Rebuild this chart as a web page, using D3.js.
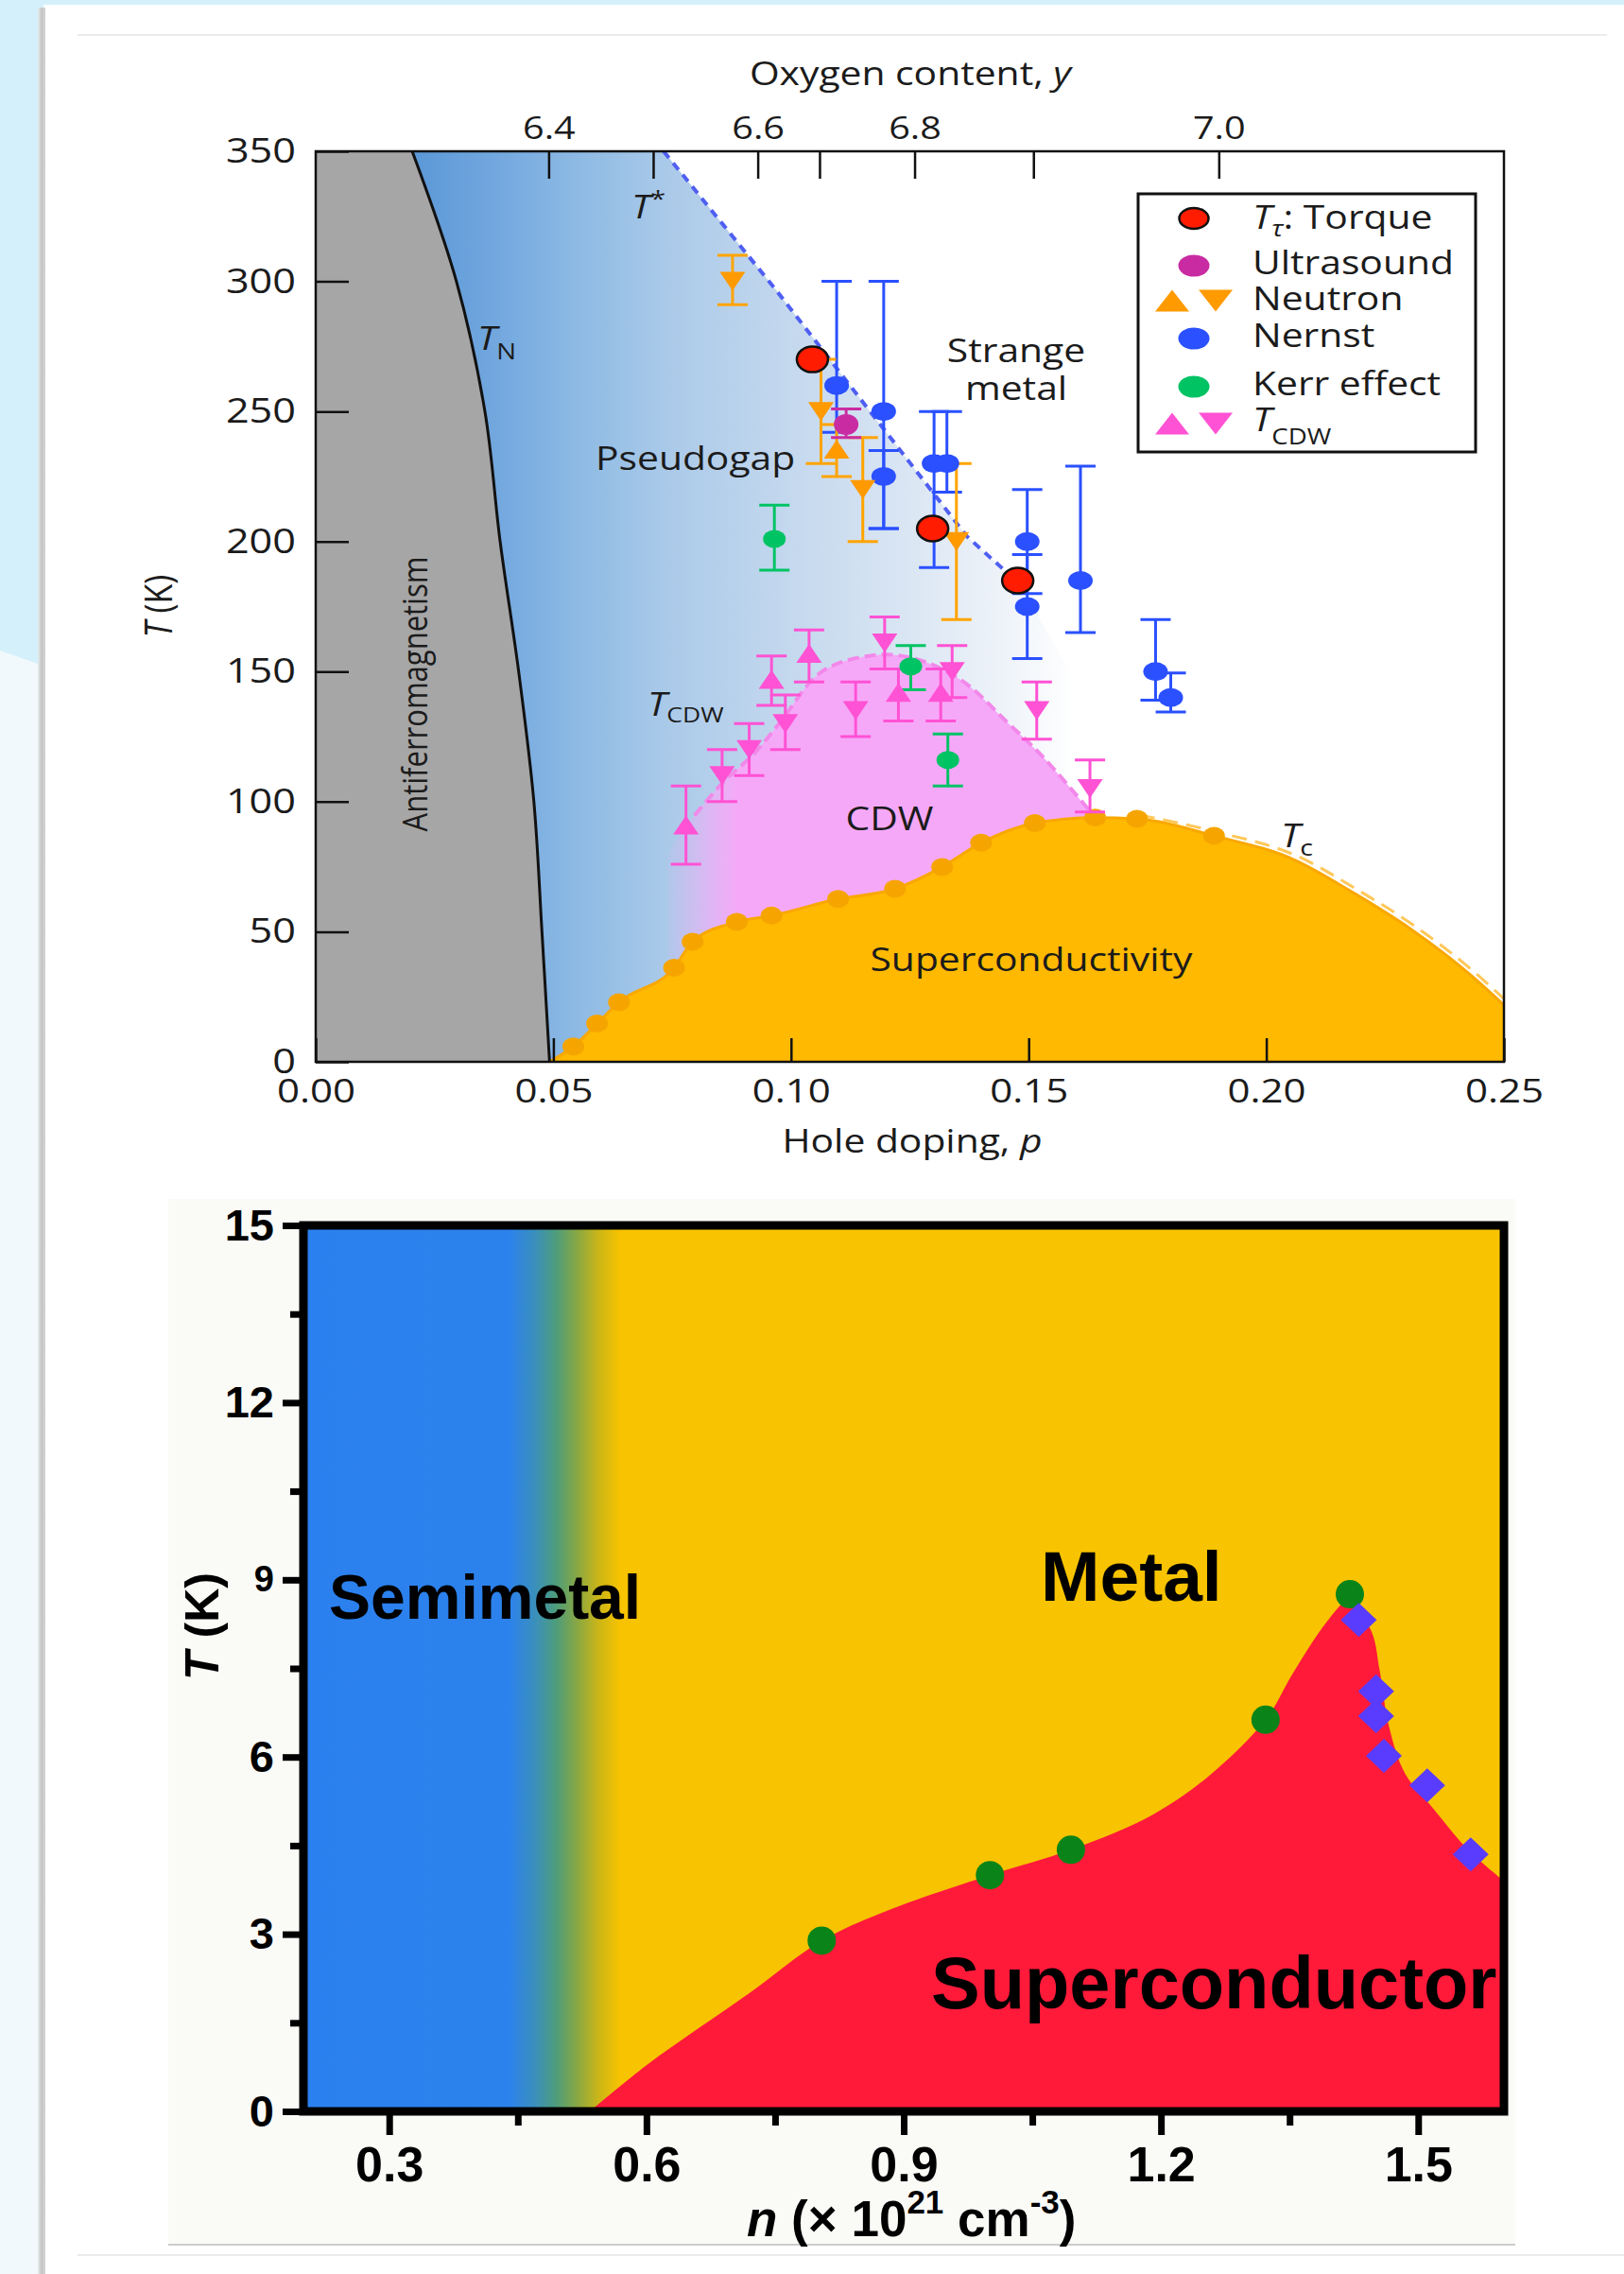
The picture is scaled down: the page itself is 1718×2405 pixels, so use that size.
<!DOCTYPE html>
<html>
<head>
<meta charset="utf-8">
<title>Phase diagrams</title>
<script src="https://cdn.jsdelivr.net/npm/d3@7/dist/d3.min.js"></script>
<style>
  html, body { margin: 0; padding: 0; background: #ffffff; }
  svg { display: block; }
</style>
</head>
<body>
<svg id="fig" width="1718" height="2405"></svg>
<script>
// ================= Upper panel: cuprate phase diagram =================
const pTicks = [0, 0.05, 0.10, 0.15, 0.20, 0.25];
const tTicks = [0, 50, 100, 150, 200, 250, 300, 350];
const oxyTickP = [0.049, 0.071, 0.093, 0.106, 0.126, 0.151, 0.190];
const oxyTickLabels = ["6.4", "", "6.6", "", "6.8", "", "7.0"];

// Néel line T_N
const tnP = [0.0203, 0.0296, 0.0356, 0.0388, 0.0427, 0.0459, 0.0476, 0.0492];
const tnT = [350, 300, 250, 200, 150, 100, 50, 0];
// pseudogap crossover T*
const tStarP = [0.0732, 0.0967, 0.137, 0.1485];
const tStarT = [350, 297, 202, 183];
// superconducting Tc points and the dashed continuation
const tcP = [0.0542, 0.0592, 0.0638, 0.0754, 0.0793, 0.0886, 0.0959, 0.1099, 0.1219, 0.1318, 0.1400, 0.1513, 0.1640, 0.1728, 0.1890];
const tcT = [5.9, 14.7, 22.9, 36.2, 46.2, 53.8, 56.2, 62.6, 66.5, 74.9, 84.2, 91.8, 93.9, 93.4, 86.9];
const tcTailP = [0.2061, 0.2183, 0.2305, 0.2427, 0.25];
const tcTailT = [77.5, 65, 50.9, 33.8, 21.8];
// charge-density-wave dome edge
const cdwP = [0.074, 0.0797, 0.086, 0.092, 0.0975, 0.1065, 0.1175, 0.126, 0.1359, 0.1455, 0.1529, 0.1626];
const cdwT = [80, 94.7, 108, 118, 130, 150, 156.3, 155, 146.6, 130.5, 117.4, 97];

// measurements: [p, T] or [p, T, lower, upper]
const torque = [[0.1045, 270], [0.1298, 205], [0.1477, 185]];
const ultrasound = [[0.1116, 245, 240, 251]];
const neutronUp = [[0.1096, 235.5, 225, 245]];
const neutronDown = [[0.0877, 300, 291, 310], [0.1063, 250, 230, 270], [0.1151, 220, 200, 240], [0.1348, 200, 170, 230]];
const nernst = [[0.1096, 260, 242, 300], [0.1195, 250, 205, 300], [0.1195, 225, 205, 235], [0.1301, 230, 190, 250],
                [0.1328, 230, 219, 250], [0.1497, 200, 180, 220], [0.1497, 175, 155, 195], [0.1609, 185, 165, 229],
                [0.1767, 150, 139, 170], [0.1799, 140, 134.5, 149.5]];
const kerr = [[0.0965, 201, 189, 214], [0.1252, 152, 143, 160], [0.1330, 116, 106, 126]];
const cdwUp = [[0.0779, 91, 76, 106], [0.0959, 147, 137, 156], [0.1038, 157, 146, 166], [0.1226, 142, 131, 151], [0.1315, 142, 131, 151]];
const cdwDown = [[0.0855, 110, 100, 120], [0.0912, 120, 110, 130], [0.0988, 130, 120, 141], [0.1136, 135, 125, 146],
                 [0.1197, 161, 151, 171], [0.1339, 150, 140, 160], [0.1517, 135, 124, 146], [0.1629, 105, 96, 116]];

// ================= Lower panel: carrier density phase diagram =================
const nTicks = [0.3, 0.6, 0.9, 1.2, 1.5];
const nMinorTicks = [0.45, 0.75, 1.05, 1.35];
const tBotTicks = [0, 3, 6, 9, 12, 15];
const tBotMinorTicks = [1.5, 4.5, 7.5, 10.5, 13.5];
// colour ramp across the semimetal / metal crossover
const phaseStopN = [0.2, 0.44, 0.47, 0.495, 0.52, 0.545, 0.57, 1.6];
const phaseStopColor = ["#2b80ef", "#2c82ec", "#3a8fbc", "#4e9d7a", "#8ba842", "#cdb616", "#f8c300", "#f8c300"];
// superconducting region edge: rising branch and falling branch
const scLeftN = [0.534, 0.60, 0.66, 0.72, 0.8044, 0.885, 1.0006, 1.095, 1.19, 1.256, 1.322, 1.352, 1.382, 1.405, 1.42];
const scLeftT = [0, 0.78, 1.4, 2.0, 2.89, 3.42, 4.0, 4.43, 5.02, 5.68, 6.63, 7.37, 8.06, 8.5, 8.72];
const scRightN = [1.42, 1.446, 1.455, 1.466, 1.485, 1.518, 1.558, 1.6];
const scRightT = [8.72, 8.11, 7.47, 6.51, 5.71, 5.12, 4.43, 3.9];
const greenN = [0.8044, 1.0006, 1.095, 1.322, 1.4203];
const greenT = [2.89, 4.0, 4.43, 6.63, 8.755];
const diamondN = [1.4307, 1.4509, 1.4509, 1.460, 1.5105, 1.5612];
const diamondT = [8.32, 7.11, 6.69, 6.02, 5.52, 4.35];

// ---------------------------------------------------------------
const svg = d3.select("#fig");
const defs = svg.append("defs");
const FONT_T = "'Open Sans', 'DejaVu Sans', sans-serif";
const FONT_B = "'Liberation Sans', Arial, sans-serif";
const SX = 1.2;          // horizontal widening of the upper panel lettering
const INK = "#1b1b1b";

// text helper: parts = [{t, italic, size, dy}]
function label(parent, x, y, parts, o) {
  let tr = `translate(${x},${y}) scale(${o.sx || 1},1)`;
  if (o.rotate) tr += ` rotate(${o.rotate})`;
  const t = parent.append("text")
    .attr("transform", tr)
    .attr("font-family", o.family)
    .attr("font-size", o.size)
    .attr("font-weight", o.weight || "normal")
    .attr("text-anchor", o.anchor || "start")
    .attr("fill", o.fill || INK);
  if (o.baseline) t.attr("dominant-baseline", o.baseline);
  parts.forEach(p => {
    const s = t.append("tspan").text(p.t);
    if (p.italic) s.attr("font-style", "italic");
    if (p.size) s.attr("font-size", p.size);
    if (p.dy) s.attr("dy", p.dy);
  });
  return t;
}

// ---------------- page backdrop ----------------
svg.append("rect").attr("width", 1718).attr("height", 2405).attr("fill", "#ffffff");
svg.append("rect").attr("x", 0).attr("y", 0).attr("width", 44).attr("height", 2405).attr("fill", "#f1f9fc");
svg.append("path").attr("d", "M0,0H1718V5H46V704L0,688Z").attr("fill", "#d4f0fb");
const sh = defs.append("linearGradient").attr("id", "cardShadow");
sh.append("stop").attr("offset", 0).attr("stop-color", "#e6eef0");
sh.append("stop").attr("offset", 0.5).attr("stop-color", "#c4c4c4");
sh.append("stop").attr("offset", 1).attr("stop-color", "#d6d6d6");
svg.append("rect").attr("x", 40).attr("y", 8).attr("width", 8).attr("height", 2397).attr("fill", "url(#cardShadow)");
svg.append("line").attr("x1", 82).attr("x2", 1700).attr("y1", 37).attr("y2", 37).attr("stroke", "#e6e6e6").attr("stroke-width", 1.5);
svg.append("rect").attr("x", 178).attr("y", 1268).attr("width", 1425).attr("height", 1106).attr("fill", "#fafaf7");
svg.append("line").attr("x1", 178).attr("x2", 1603).attr("y1", 2374).attr("y2", 2374).attr("stroke", "#bdbdbd").attr("stroke-width", 1.5);
svg.append("line").attr("x1", 82).attr("x2", 1718).attr("y1", 2385).attr("y2", 2385).attr("stroke", "#e4e4e4").attr("stroke-width", 1.5);

// ================= upper panel =================
const xT = d3.scaleLinear().domain([0, 0.25]).range([334, 1591]);
const yT = d3.scaleLinear().domain([0, 350]).range([1123, 160]);
const g1 = svg.append("g");

defs.append("clipPath").attr("id", "clipTop").append("rect")
  .attr("x", xT(0)).attr("y", yT(350)).attr("width", xT(0.25) - xT(0)).attr("height", yT(0) - yT(350));
const plot1 = g1.append("g").attr("clip-path", "url(#clipTop)");

const smooth = d3.line().curve(d3.curveCatmullRom.alpha(0.5));
const tnPts = tnP.map((p, i) => [xT(p), yT(tnT[i])]);
const tStarPts = tStarP.map((p, i) => [xT(p), yT(tStarT[i])]);

// antiferromagnetic region
plot1.append("path")
  .attr("d", `M${xT(0)},${yT(350)}` + smooth(tnPts).replace(/^M/, "L") + `L${xT(0)},${yT(0)}Z`)
  .attr("fill", "#a6a6a6");

// pseudogap shading
const pg = defs.append("linearGradient").attr("id", "pgGrad").attr("gradientUnits", "userSpaceOnUse")
  .attr("x1", xT(0.02)).attr("x2", xT(0.16)).attr("y1", 0).attr("y2", 0);
[[0, "#5a97d7"], [0.14, "#75a9df"], [0.25, "#8dbae4"], [0.39, "#abcae9"], [0.57, "#c4d8ee"],
 [0.74, "#d9e5f3"], [0.89, "#eef3f9"], [1, "#ffffff"]]
  .forEach(s => pg.append("stop").attr("offset", s[0]).attr("stop-color", s[1]));
const tStarRev = tStarPts.slice().reverse().map(d => `L${d[0]},${d[1]}`).join("");
plot1.append("path")
  .attr("d", smooth(tnPts) + `L${xT(0.176)},${yT(0)}L${xT(0.176)},${yT(93)}` + tStarRev + "Z")
  .attr("fill", "url(#pgGrad)");

// CDW dome
const cg = defs.append("linearGradient").attr("id", "cdwGrad").attr("gradientUnits", "userSpaceOnUse")
  .attr("x1", xT(0.073)).attr("x2", xT(0.089)).attr("y1", 0).attr("y2", 0);
cg.append("stop").attr("offset", 0).attr("stop-color", "#f6a8f8").attr("stop-opacity", 0);
cg.append("stop").attr("offset", 1).attr("stop-color", "#f6a8f8").attr("stop-opacity", 1);
const cdwPts = cdwP.map((p, i) => [xT(p), yT(cdwT[i])]);
plot1.append("path")
  .attr("d", `M${xT(cdwP[0])},${yT(0)}` + smooth(cdwPts).replace(/^M/, "L") + `L${xT(cdwP[cdwP.length - 1])},${yT(0)}Z`)
  .attr("fill", "url(#cdwGrad)");

// superconducting dome
const tcAll = [[0.0492, 0]].concat(tcP.map((p, i) => [p, tcT[i]]), tcTailP.map((p, i) => [p, tcTailT[i]]));
const tcArea = d3.area().x(d => xT(d[0])).y0(yT(0)).y1(d => yT(d[1])).curve(d3.curveMonotoneX);
plot1.append("path").attr("d", tcArea(tcAll)).attr("fill", "#ffb900");
const tcLine = d3.line().x(d => xT(d[0])).y(d => yT(d[1])).curve(d3.curveMonotoneX);
plot1.append("path").attr("d", tcLine(tcAll))
  .attr("fill", "none").attr("stroke", "#f9a800").attr("stroke-width", 3);
plot1.append("path").attr("d", tcLine(tcAll.filter(d => d[0] >= 0.17)))
  .attr("transform", "translate(3,-4)")
  .attr("fill", "none").attr("stroke", "#ffc85a").attr("stroke-width", 3).attr("stroke-dasharray", "16,9");
plot1.selectAll("ellipse.tc").data(tcP).join("ellipse").attr("class", "tc")
  .attr("cx", d => xT(d)).attr("cy", (d, i) => yT(tcT[i])).attr("rx", 11.5).attr("ry", 9.5).attr("fill", "#f6a500");

// CDW edge
plot1.append("path").attr("d", smooth(cdwPts.slice(1)))
  .attr("fill", "none").attr("stroke", "#f289ea").attr("stroke-width", 4).attr("stroke-dasharray", "12,6");

// T_N and T* lines
plot1.append("path").attr("d", smooth(tnPts)).attr("fill", "none").attr("stroke", "#111").attr("stroke-width", 3);
plot1.append("path").attr("d", d3.line()(tStarPts))
  .attr("fill", "none").attr("stroke", "#4f5ff2").attr("stroke-width", 4).attr("stroke-dasharray", "9,7");

// error bars and symbols
const CAP = 16;
function errBars(data, color) {
  const g = plot1.append("g").attr("stroke", color).attr("stroke-width", 3).attr("fill", "none");
  data.forEach(d => {
    const x = xT(d[0]);
    g.append("line").attr("x1", x).attr("x2", x).attr("y1", yT(d[2])).attr("y2", yT(d[3]));
    g.append("line").attr("x1", x - CAP).attr("x2", x + CAP).attr("y1", yT(d[2])).attr("y2", yT(d[2]));
    g.append("line").attr("x1", x - CAP).attr("x2", x + CAP).attr("y1", yT(d[3])).attr("y2", yT(d[3]));
  });
}
function triPath(w, h, up) {
  return up ? `M0,${-h / 2}L${w / 2},${h / 2}L${-w / 2},${h / 2}Z`
            : `M0,${h / 2}L${w / 2},${-h / 2}L${-w / 2},${-h / 2}Z`;
}
function dots(parent, data, color, rx, ry, sx, sy) {
  parent.selectAll(null).data(data).join("ellipse")
    .attr("cx", d => sx(d[0])).attr("cy", d => sy(d[1])).attr("rx", rx).attr("ry", ry).attr("fill", color);
}
function tris(parent, data, color, up, w, h, sx, sy) {
  parent.selectAll(null).data(data).join("path")
    .attr("d", triPath(w, h, up))
    .attr("transform", d => `translate(${sx(d[0])},${sy(d[1])})`).attr("fill", color);
}

const C_NERNST = "#2a50ff", C_NEUTRON = "#ff9a00", C_KERR = "#00c364", C_US = "#c92ca2",
      C_CDW = "#ff52d4", C_TORQUE = "#ff1c00";

errBars(nernst, C_NERNST);
errBars(neutronDown.concat(neutronUp), "#ffa400");
errBars(kerr, C_KERR);
errBars(cdwUp.concat(cdwDown), C_CDW);
errBars(ultrasound, C_US);
dots(plot1, nernst, C_NERNST, 13, 10, xT, yT);
dots(plot1, kerr, C_KERR, 12, 9.5, xT, yT);
tris(plot1, neutronDown, C_NEUTRON, false, 27, 20, xT, yT);
tris(plot1, neutronUp, C_NEUTRON, true, 27, 20, xT, yT);
tris(plot1, cdwUp, C_CDW, true, 27, 20, xT, yT);
tris(plot1, cdwDown, C_CDW, false, 27, 20, xT, yT);
dots(plot1, ultrasound, C_US, 13, 11, xT, yT);
plot1.selectAll(null).data(torque).join("ellipse")
  .attr("cx", d => xT(d[0])).attr("cy", d => yT(d[1])).attr("rx", 16.5).attr("ry", 13.5)
  .attr("fill", C_TORQUE).attr("stroke", "#111").attr("stroke-width", 2.5);

// frame and axes
g1.append("rect").attr("x", xT(0)).attr("y", yT(350)).attr("width", xT(0.25) - xT(0)).attr("height", yT(0) - yT(350))
  .attr("fill", "none").attr("stroke", "#111").attr("stroke-width", 2.5);

function styleTopAxis(g, size) {
  g.select(".domain").remove();
  g.selectAll(".tick line").attr("stroke", "#111").attr("stroke-width", 2.5);
  g.selectAll(".tick text").attr("font-family", FONT_T).attr("font-size", size).attr("fill", INK)
    .attr("transform", `scale(${SX},1)`);
}
g1.append("g").attr("transform", `translate(${xT(0)},0)`)
  .call(d3.axisLeft(yT).tickValues(tTicks).tickSize(-35).tickPadding(17.5).tickFormat(d3.format("d")))
  .call(g => styleTopAxis(g, 36));
g1.append("g").attr("transform", `translate(0,${yT(0)})`)
  .call(d3.axisBottom(xT).tickValues(pTicks).tickSize(-25).tickPadding(18).tickFormat(d3.format(".2f")))
  .call(g => styleTopAxis(g, 35));
g1.append("g").attr("transform", `translate(0,${yT(350)})`)
  .call(d3.axisTop(xT).tickValues(oxyTickP).tickSize(-29).tickPadding(13).tickFormat((d, i) => oxyTickLabels[i]))
  .call(g => styleTopAxis(g, 33));

// titles and region names
const T1 = { family: FONT_T, size: 34, sx: SX };
label(g1, 963, 90, [{ t: "Oxygen content, " }, { t: "y", italic: true }], { ...T1, anchor: "middle" });
label(g1, 965, 1219, [{ t: "Hole doping, " }, { t: "p", italic: true }], { ...T1, anchor: "middle" });
label(g1, 166, 641, [{ t: "T", italic: true }, { t: " (K)" }], { ...T1, anchor: "middle", baseline: "central", rotate: -90 });
label(g1, 437, 734, [{ t: "Antiferromagnetism" }], { family: FONT_T, size: 31, sx: SX, anchor: "middle", baseline: "central", rotate: -90 });
label(g1, 505, 370, [{ t: "T", italic: true }, { t: "N", size: 23, dy: 10 }], T1);
label(g1, 668, 231, [{ t: "T", italic: true }, { t: "*", size: 24, dy: -12 }], T1);
label(g1, 630, 497, [{ t: "Pseudogap" }], T1);
label(g1, 1075, 383, [{ t: "Strange" }], { ...T1, anchor: "middle" });
label(g1, 1075, 423, [{ t: "metal" }], { ...T1, anchor: "middle" });
label(g1, 685, 757, [{ t: "T", italic: true }, { t: "CDW", size: 22, dy: 7 }], T1);
label(g1, 941, 878, [{ t: "CDW" }], { ...T1, anchor: "middle" });
label(g1, 1091, 1027, [{ t: "Superconductivity" }], { ...T1, anchor: "middle" });
label(g1, 1355, 896, [{ t: "T", italic: true }, { t: "c", size: 24, dy: 9 }], T1);

// legend
const lg = g1.append("g");
lg.append("rect").attr("x", 1204).attr("y", 205).attr("width", 357).attr("height", 273)
  .attr("fill", "#ffffff").attr("stroke", "#111").attr("stroke-width", 3);
const LX = 1325, LC = 1263;
lg.append("ellipse").attr("cx", LC).attr("cy", 231).attr("rx", 15.5).attr("ry", 11).attr("fill", C_TORQUE).attr("stroke", "#111").attr("stroke-width", 2.5);
label(lg, LX, 242, [{ t: "T", italic: true }, { t: "τ", italic: true, size: 24, dy: 8 }, { t: ": Torque", dy: -8 }], T1);
lg.append("ellipse").attr("cx", LC).attr("cy", 281).attr("rx", 16.5).attr("ry", 11.5).attr("fill", C_US);
label(lg, LX, 290, [{ t: "Ultrasound" }], T1);
lg.append("path").attr("d", triPath(36, 23, true)).attr("transform", "translate(1240,318)").attr("fill", C_NEUTRON);
lg.append("path").attr("d", triPath(36, 23, false)).attr("transform", "translate(1286,318)").attr("fill", C_NEUTRON);
label(lg, LX, 328, [{ t: "Neutron" }], T1);
lg.append("ellipse").attr("cx", LC).attr("cy", 358).attr("rx", 16.5).attr("ry", 11.5).attr("fill", C_NERNST);
label(lg, LX, 367, [{ t: "Nernst" }], T1);
lg.append("ellipse").attr("cx", LC).attr("cy", 409).attr("rx", 16.5).attr("ry", 11.5).attr("fill", C_KERR);
label(lg, LX, 418, [{ t: "Kerr effect" }], T1);
lg.append("path").attr("d", triPath(36, 23, true)).attr("transform", "translate(1240,448)").attr("fill", C_CDW);
lg.append("path").attr("d", triPath(36, 23, false)).attr("transform", "translate(1286,448)").attr("fill", C_CDW);
label(lg, LX, 456, [{ t: "T", italic: true }, { t: "CDW", size: 23, dy: 14 }], T1);

// ================= lower panel =================
const xB = d3.scaleLinear().domain([0.2, 1.6]).range([321, 1591]);
const yB = d3.scaleLinear().domain([0, 15]).range([2233, 1296]);
const g2 = svg.append("g");

defs.append("clipPath").attr("id", "clipBot").append("rect")
  .attr("x", xB(0.2)).attr("y", yB(15)).attr("width", xB(1.6) - xB(0.2)).attr("height", yB(0) - yB(15));
const plot2 = g2.append("g").attr("clip-path", "url(#clipBot)");

const ph = defs.append("linearGradient").attr("id", "phaseGrad").attr("gradientUnits", "userSpaceOnUse")
  .attr("x1", xB(0.2)).attr("x2", xB(1.6)).attr("y1", 0).attr("y2", 0);
phaseStopN.forEach((n, i) => ph.append("stop").attr("offset", (n - 0.2) / 1.4).attr("stop-color", phaseStopColor[i]));
plot2.append("rect").attr("x", xB(0.2)).attr("y", yB(15)).attr("width", xB(1.6) - xB(0.2)).attr("height", yB(0) - yB(15))
  .attr("fill", "url(#phaseGrad)");

const scLine = d3.line().x(d => xB(d[0])).y(d => yB(d[1])).curve(d3.curveCatmullRom.alpha(0.5));
const leftPts = scLeftN.map((n, i) => [n, scLeftT[i]]);
const rightPts = scRightN.map((n, i) => [n, scRightT[i]]);
plot2.append("path")
  .attr("d", scLine(leftPts) + scLine(rightPts).replace(/^M/, "L") + `L${xB(1.62)},${yB(3.8)}L${xB(1.62)},${yB(-0.2)}L${xB(0.534)},${yB(-0.2)}Z`)
  .attr("fill", "#ff1a3a");

dots(plot2, greenN.map((n, i) => [n, greenT[i]]), "#0a8418", 15, 15, xB, yB);
plot2.selectAll(null).data(diamondN.map((n, i) => [n, diamondT[i]])).join("path")
  .attr("d", "M0,-18L19,0L0,18L-19,0Z")
  .attr("transform", d => `translate(${xB(d[0])},${yB(d[1])})`).attr("fill", "#5a3cff");

label(plot2, 348, 1712, [{ t: "Semimetal" }], { family: FONT_B, size: 66, weight: "bold", fill: "#000" });
label(plot2, 1101, 1693, [{ t: "Metal" }], { family: FONT_B, size: 75, weight: "bold", fill: "#000" });
label(plot2, 985, 2124, [{ t: "Superconductor" }], { family: FONT_B, size: 77.5, weight: "bold", fill: "#000" });

// frame and axes
g2.append("rect").attr("x", xB(0.2)).attr("y", yB(15)).attr("width", xB(1.6) - xB(0.2)).attr("height", yB(0) - yB(15))
  .attr("fill", "none").attr("stroke", "#000").attr("stroke-width", 9);

function styleBotAxis(g, size) {
  g.select(".domain").remove();
  g.selectAll(".tick line").attr("stroke", "#000").attr("stroke-width", 7);
  g.selectAll(".tick text").attr("font-family", FONT_B).attr("font-size", size).attr("font-weight", "bold").attr("fill", "#000");
}
g2.append("g").attr("transform", `translate(${xB(0.2) - 4},0)`)
  .call(d3.axisLeft(yB).tickValues(tBotTicks).tickSize(18).tickPadding(9).tickFormat(d3.format("d")))
  .call(g => styleBotAxis(g, 47))
  .call(g => g.selectAll(".tick text").filter(d => d === 9).attr("font-size", 38));
g2.append("g").attr("transform", `translate(${xB(0.2) - 4},0)`)
  .call(d3.axisLeft(yB).tickValues(tBotMinorTicks).tickSize(10).tickFormat(""))
  .call(g => styleBotAxis(g, 47));
g2.append("g").attr("transform", `translate(0,${yB(0) + 4})`)
  .call(d3.axisBottom(xB).tickValues(nTicks).tickSize(21).tickPadding(12).tickFormat(d3.format(".1f")))
  .call(g => styleBotAxis(g, 52));
g2.append("g").attr("transform", `translate(0,${yB(0) + 4})`)
  .call(d3.axisBottom(xB).tickValues(nMinorTicks).tickSize(11).tickFormat(""))
  .call(g => styleBotAxis(g, 52));

label(g2, 214, 1720, [{ t: "T", italic: true }, { t: " (K)" }],
  { family: FONT_B, size: 50, weight: "bold", fill: "#000", anchor: "middle", baseline: "central", rotate: -90 });
label(g2, 790, 2365, [{ t: "n", italic: true }, { t: " (× 10" }, { t: "21", size: 35, dy: -24 }, { t: " cm", dy: 24 },
  { t: "-3", size: 35, dy: -24 }, { t: ")", dy: 24 }],
  { family: FONT_B, size: 53, weight: "bold", fill: "#000" });
</script>
</body>
</html>
